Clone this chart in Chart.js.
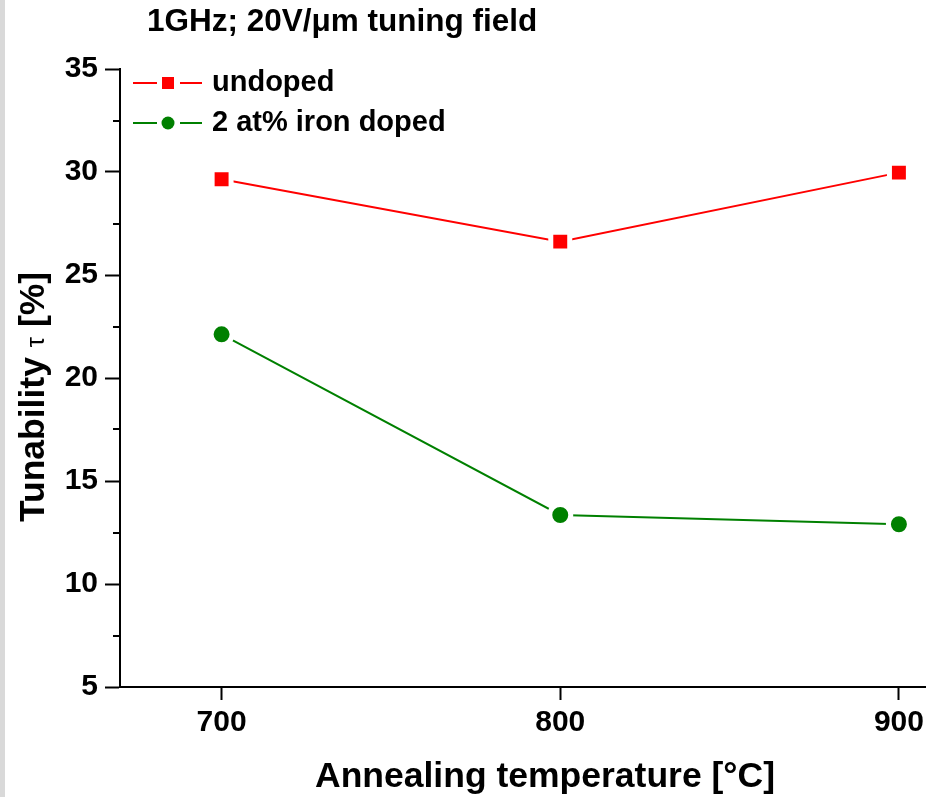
<!DOCTYPE html>
<html>
<head>
<meta charset="utf-8">
<title>Tunability vs annealing temperature</title>
<script src="https://cdn.jsdelivr.net/npm/chart.js@4.4.0/dist/chart.umd.min.js"></script>
<style>
    html, body { margin: 0; padding: 0; background: #fff; }
    #wrap { width: 926px; height: 797px; }
</style>
</head>
<body>
<div id="wrap"><canvas id="tuneChart" width="926" height="797"></canvas></div>
<script>
// measured tunability at 1 GHz, 20 V/um
const temperatures = [700, 800, 900];
const undoped = [29.65, 26.62, 29.97];
const ironDoped = [22.12, 13.35, 12.9];

const seriesNames = ['undoped', '2 at% iron doped'];
const xTicks = [700, 800, 900];
const yTicks = [5, 10, 15, 20, 25, 30, 35];
const yMinorTicks = [7.5, 12.5, 17.5, 22.5, 27.5, 32.5];

const FONT = '"Liberation Sans", Arial, sans-serif';

function toPoints(values) {
    return temperatures.map((t, i) => ({ x: t, y: values[i] }));
}

// titles, minor ticks and the line+marker legend are drawn by hand
const decorations = {
    id: 'decorations',
    beforeDraw(chart) {
        const ctx = chart.ctx;
        ctx.save();
        ctx.fillStyle = '#d9d9d9';
        ctx.fillRect(0, 0, 5, chart.height);
        ctx.restore();
    },
    afterDraw(chart) {
        const ctx = chart.ctx;
        const yScale = chart.scales.y;
        const left = chart.chartArea.left;
        ctx.save();

        // minor ticks on the y axis
        ctx.strokeStyle = '#000';
        ctx.lineWidth = 2;
        yMinorTicks.forEach(v => {
            const py = Math.round(yScale.getPixelForValue(v));
            ctx.beginPath();
            ctx.moveTo(left - 7, py);
            ctx.lineTo(left, py);
            ctx.stroke();
        });

        // chart title
        ctx.fillStyle = '#000';
        ctx.font = 'bold 31.5px ' + FONT;
        ctx.textAlign = 'left';
        ctx.textBaseline = 'middle';
        ctx.fillText('1GHz; 20V/\u03bcm tuning field', 147, 22);

        // x axis title
        ctx.font = 'bold 35.5px ' + FONT;
        ctx.textAlign = 'center';
        ctx.fillText('Annealing temperature [\u00b0C]', 545, 777);

        // y axis title, tau set smaller and not bold
        const parts = [
            { text: 'Tunability ', font: 'bold 35.5px ' + FONT },
            { text: '\u03c4', font: '26px ' + FONT },
            { text: ' [%]', font: 'bold 35.5px ' + FONT }
        ];
        let total = 0;
        parts.forEach(p => { ctx.font = p.font; p.w = ctx.measureText(p.text).width; total += p.w; });
        ctx.translate(44, 397);
        ctx.rotate(-Math.PI / 2);
        ctx.textAlign = 'left';
        ctx.textBaseline = 'alphabetic';
        let px = -total / 2;
        parts.forEach(p => { ctx.font = p.font; ctx.fillText(p.text, px, 0); px += p.w; });
        ctx.setTransform(1, 0, 0, 1, 0, 0);

        // legend
        chart.data.datasets.forEach((ds, i) => {
            const ly = 83 + 40 * i;
            ctx.strokeStyle = ds.borderColor;
            ctx.lineWidth = 2;
            ctx.beginPath();
            ctx.moveTo(133, ly); ctx.lineTo(157, ly);
            ctx.moveTo(180, ly); ctx.lineTo(202, ly);
            ctx.stroke();
            ctx.fillStyle = ds.pointBackgroundColor;
            if (ds.pointStyle === 'rect') {
                ctx.fillRect(162, ly - 6, 12, 12);
            } else {
                ctx.beginPath();
                ctx.arc(168, ly, 6.5, 0, Math.PI * 2);
                ctx.fill();
            }
            ctx.fillStyle = '#000';
            ctx.font = 'bold 29px ' + FONT;
            ctx.textAlign = 'left';
            ctx.textBaseline = 'middle';
            ctx.fillText(ds.label, 212, ly);
        });
        ctx.restore();
    }
};

const ctx = document.getElementById('tuneChart').getContext('2d');

new Chart(ctx, {
    type: 'line',
    data: {
        datasets: [
            {
                label: seriesNames[0],
                data: toPoints(undoped),
                borderColor: '#ff0000',
                borderWidth: 2,
                pointStyle: 'rect',
                pointRadius: 13.4,
                pointBackgroundColor: '#ff0000',
                pointBorderColor: '#ffffff',
                pointBorderWidth: 5
            },
            {
                label: seriesNames[1],
                data: toPoints(ironDoped),
                borderColor: '#008000',
                borderWidth: 2,
                pointStyle: 'circle',
                pointRadius: 10.5,
                pointBackgroundColor: '#008000',
                pointBorderColor: '#ffffff',
                pointBorderWidth: 5
            }
        ]
    },
    options: {
        responsive: false,
        animation: false,
        events: [],
        layout: {
            autoPadding: false,
            padding: { top: 69, left: 0, right: 0, bottom: 0 }
        },
        plugins: {
            legend: { display: false },
            tooltip: { enabled: false },
            title: { display: false }
        },
        scales: {
            x: {
                type: 'linear',
                min: 670,
                max: 908,
                afterBuildTicks: scale => { scale.ticks = xTicks.map(v => ({ value: v })); },
                afterFit: scale => {
                    scale.height = 110;
                    scale.paddingLeft = 0;
                    scale.paddingRight = 0;
                },
                grid: {
                    drawOnChartArea: false,
                    drawTicks: true,
                    tickLength: 13,
                    tickColor: '#000',
                    tickWidth: 2
                },
                border: { display: true, color: '#000', width: 2 },
                ticks: {
                    color: '#000',
                    padding: 5,
                    maxRotation: 0,
                    font: { family: FONT, size: 30, weight: 'bold' }
                }
            },
            y: {
                min: 5,
                max: 35,
                afterBuildTicks: scale => { scale.ticks = yTicks.map(v => ({ value: v })); },
                afterFit: scale => { scale.width = 120; },
                grid: {
                    drawOnChartArea: false,
                    drawTicks: true,
                    tickLength: 15,
                    tickColor: '#000',
                    tickWidth: 2
                },
                border: { display: true, color: '#000', width: 2 },
                ticks: {
                    color: '#000',
                    padding: 7,
                    font: { family: FONT, size: 30, weight: 'bold' }
                }
            }
        }
    },
    plugins: [decorations]
});
</script>
</body>
</html>
